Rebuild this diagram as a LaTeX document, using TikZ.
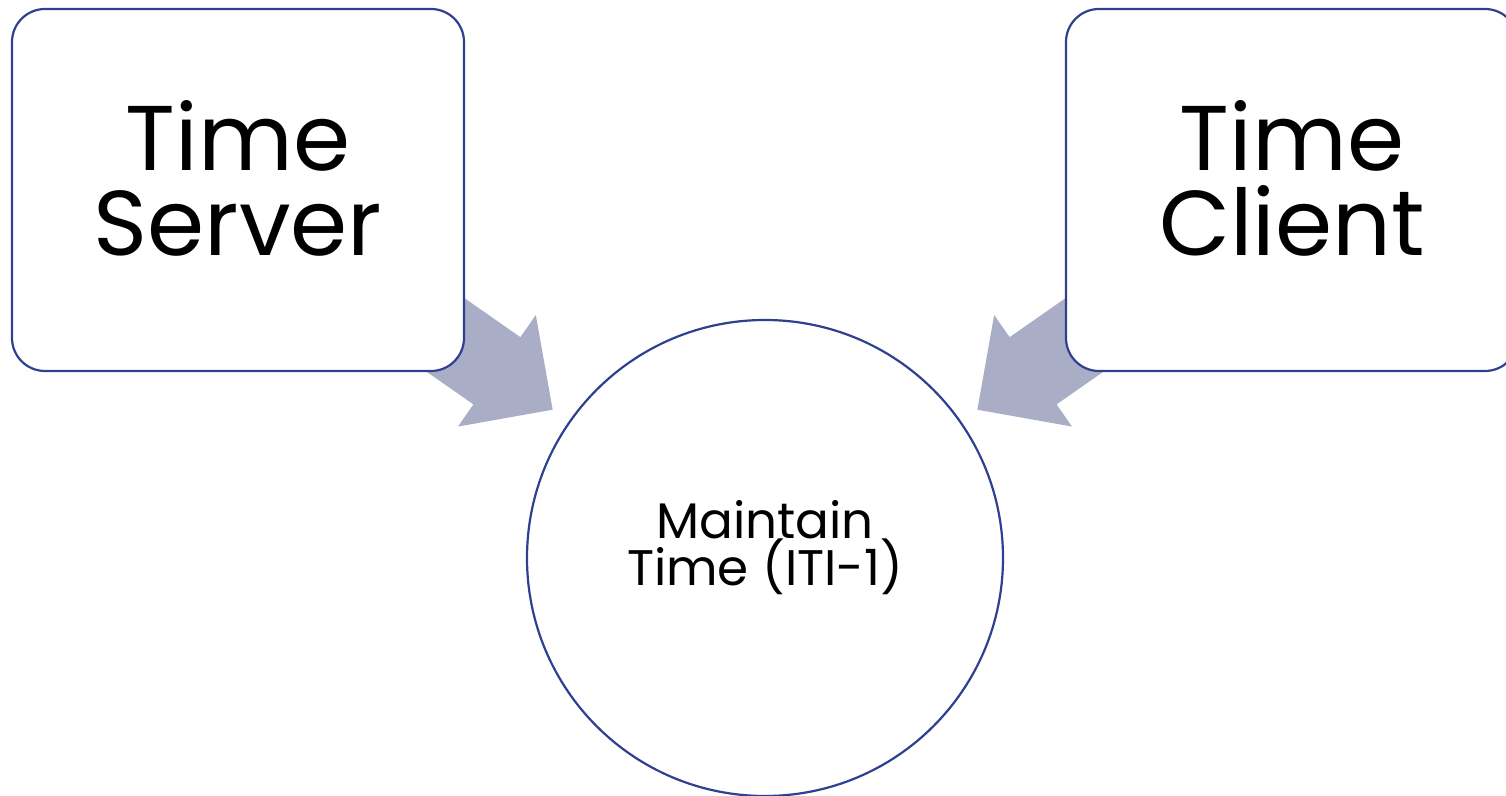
\documentclass[tikz,border=0pt]{standalone}
\usepackage{fontspec}
\setmainfont{Poppins}
\usetikzlibrary{calc,backgrounds}

\definecolor{boxline}{RGB}{46,64,143}
\definecolor{arrowfill}{RGB}{170,173,198}
\setlength{\lineskiplimit}{-30pt}

\tikzset{
  roundbox/.style={draw=boxline,line width=1.1pt,fill=white,rounded corners=16.5pt,
    minimum width=226pt,minimum height=181pt,align=center,inner sep=0pt,text depth=12pt,
    font=\fontsize{46}{42.5}\selectfont},
  ringnode/.style={circle,draw=boxline,line width=1.1pt,fill=white,minimum size=238pt,
    align=center,inner sep=0pt,text depth=15pt,font=\fontsize{25}{23.5}\selectfont},
  fatarrow/.style={fill=arrowfill}
}

% block arrow from box #1 towards circle #2
\newcommand{\blockarrow}[2]{%
  \coordinate (tip) at ($(#2.center)!129.5pt!(#1.center)$);
  \coordinate (base) at ($(#2.center)!163.5pt!(#1.center)$);
  \coordinate (tail) at ($(#2.center)!228.5pt!(#1.center)$);
  \fill[fatarrow] ($(tail)!20.5pt!90:(tip)$) -- ($(base)!20.5pt!90:(tip)$) -- ($(base)!34pt!90:(tip)$)
    -- (tip) -- ($(base)!34pt!-90:(tip)$) -- ($(base)!20.5pt!-90:(tip)$) -- ($(tail)!20.5pt!-90:(tip)$) -- cycle;
}

\begin{document}
\begin{tikzpicture}[x=0.5pt,y=-0.5pt]
  \useasboundingbox (0,0) rectangle (1506,796);
  \clip (0,0) rectangle (1506,796);

  \node[roundbox] (server) at (238,190) {Time\\Server};
  \node[roundbox] (client) at (1292,190) {Time\\Client};
  \node[ringnode] (maintain) at (765,558) {Maintain\\Time (ITI-1)};

  \begin{pgfonlayer}{background}
    \blockarrow{server}{maintain}
    \blockarrow{client}{maintain}
  \end{pgfonlayer}
\end{tikzpicture}
\end{document}
